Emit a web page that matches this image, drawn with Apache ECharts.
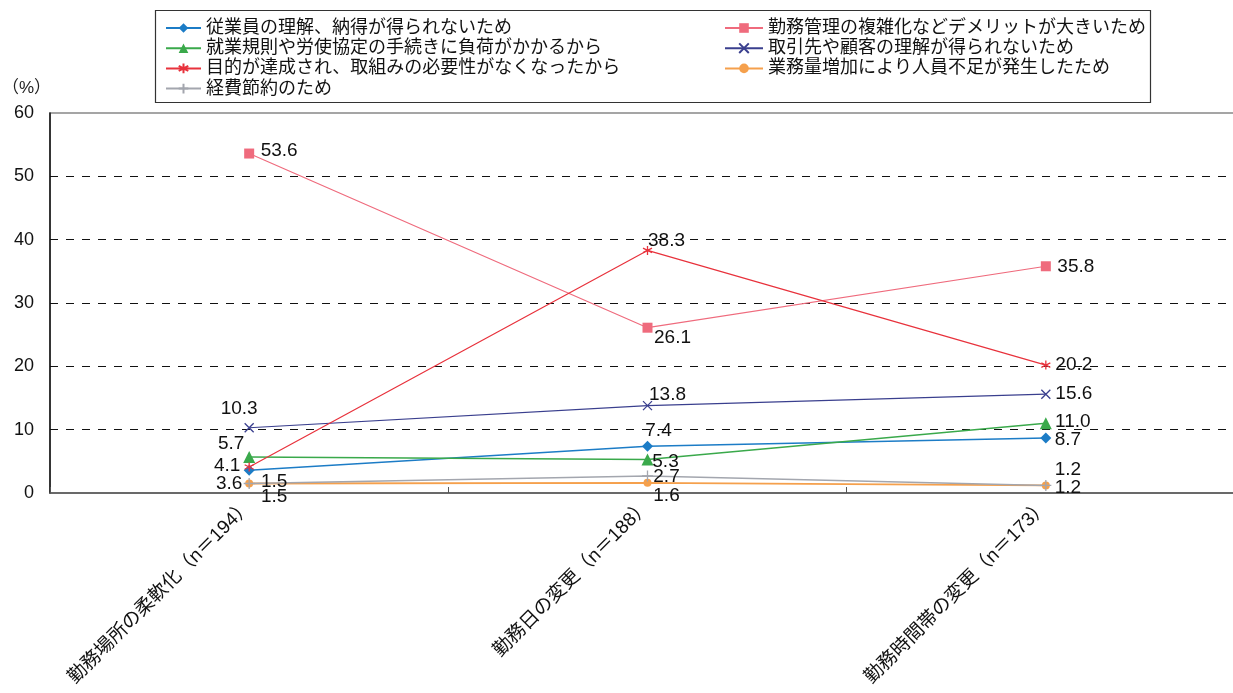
<!DOCTYPE html>
<html><head><meta charset="utf-8">
<script src="https://cdn.jsdelivr.net/npm/echarts@6/dist/echarts.min.js"></script>
<style>html,body{margin:0;padding:0;background:#fff}#c{width:1233px;height:693px}</style>
</head><body><div id="c"></div>
<script>
const categories = ['勤務場所の柔軟化（n＝194）', '勤務日の変更（n＝188）', '勤務時間帯の変更（n＝173）'];
const seriesNames = [
  '従業員の理解、納得が得られないため',
  '勤務管理の複雑化などデメリットが大きいため',
  '就業規則や労使協定の手続きに負荷がかかるから',
  '取引先や顧客の理解が得られないため',
  '目的が達成され、取組みの必要性がなくなったから',
  '業務量増加により人員不足が発生したため',
  '経費節約のため'
];
const understanding = [3.6, 7.4, 8.7];
const managementBurden = [53.6, 26.1, 35.8];
const procedures = [5.7, 5.3, 11.0];
const clients = [10.3, 13.8, 15.6];
const achieved = [4.1, 38.3, 20.2];
const staffShortage = [1.5, 1.6, 1.2];
const costSaving = [1.5, 2.7, 1.2];
const yTicks = [0, 10, 20, 30, 40, 50, 60];

const values = [understanding, managementBurden, procedures, clients, achieved, staffShortage, costSaving];
const colors = ['#1c7cc6', '#ef6b7d', '#3aa94b', '#3a3f8e', '#e8323c', '#f5a04c', '#a3a6ae'];
const lineWidths = [1.5, 1.2, 1.5, 1.2, 1.2, 1.8, 1.5];
const symbols = [
  'diamond', 'rect', 'triangle',
  'path://M0,0L10,10M10,0L0,10',
  'path://M5,0L5,10M0,2.5L10,7.5M0,7.5L10,2.5',
  'circle',
  'path://M5,0L5,10M0,5L10,5'
];
const symbolSizes = [11, 10, 12, 9, 9, 8, 11];
// label centre offsets relative to point centre
const labelOffsets = [
  [[-20, 14], [11, -15], [22, 2]],
  [[30, -3], [25, 10], [30, 0]],
  [[-18, -13], [18, 2], [27, -2]],
  [[-10, -19], [20, -11], [28, 0]],
  [[-22, -1], [19, -10], [28, 0]],
  [[25, 13], [19, 13], [22, 2]],
  [[25, -2], [19, 1], [22, -16]]
];

const chart = echarts.init(document.getElementById('c'));
const font = "'Liberation Sans', 'Noto Sans CJK JP', sans-serif";

const series = values.map((vals, si) => {
  const isPath = symbols[si].startsWith('path');
  return {
    name: seriesNames[si],
    type: 'line',
    symbol: symbols[si],
    symbolSize: symbolSizes[si],
    showAllSymbol: true,
    lineStyle: { color: colors[si], width: lineWidths[si] },
    itemStyle: isPath ? { color: colors[si], borderColor: colors[si], borderWidth: 1.3 } : { color: colors[si], borderWidth: 0 },
    emphasis: { disabled: true },
    data: vals.map((v, ci) => ({
      value: v,
      label: {
        show: true,
        position: 'inside',
        offset: labelOffsets[si][ci],
        formatter: v.toFixed(1),
        color: '#111',
        fontSize: 19,
        fontFamily: font
      }
    })),
    z: 3
  };
});

const legendText = { fontSize: 18, lineHeight: 18, color: '#111', fontFamily: font };

chart.setOption({
  animation: false,
  backgroundColor: '#fff',
  textStyle: { fontFamily: font },
  graphic: [
    { type: 'rect', shape: { x: 155.5, y: 10.5, width: 995, height: 92 }, style: { fill: 'none', stroke: '#333', lineWidth: 1.2 }, z: 10 },
    { type: 'text', left: 2, top: 80, style: { text: '（%）', fontSize: 17, fill: '#222', fontFamily: font } }
  ],
  legend: [
    {
      data: [seriesNames[0], seriesNames[2], seriesNames[4], seriesNames[6]],
      orient: 'vertical', left: 165, top: 19, padding: 0, itemGap: 2.2, itemWidth: 35, itemHeight: 12,
      textStyle: legendText, selectedMode: false
    },
    {
      data: [seriesNames[1], seriesNames[3], seriesNames[5]],
      orient: 'vertical', left: 724, top: 19, padding: 0, itemGap: 2.2, itemWidth: 38, itemHeight: 12,
      textStyle: legendText, selectedMode: false
    }
  ],
  grid: { left: 50, top: 113, width: 1195, height: 380, show: true, borderColor: '#888', borderWidth: 1.5, outerBoundsMode: 'none', containLabel: false },
  xAxis: {
    type: 'category',
    data: categories,
    boundaryGap: true,
    axisLine: { show: true, lineStyle: { color: '#555', width: 1.5 } },
    axisTick: { show: true, inside: true, length: 6, lineStyle: { color: '#555' } },
    axisLabel: { rotate: 45, fontSize: 19, color: '#111', margin: 10, fontFamily: font, interval: 0 }
  },
  yAxis: {
    type: 'value',
    min: 0, max: 60, interval: 10,
    axisLine: { show: true, lineStyle: { color: '#111', width: 1.5 } },
    axisTick: { show: false },
    axisLabel: { fontSize: 18, color: '#111', margin: 16, fontFamily: font },
    splitLine: { show: true, showMinLine: false, showMaxLine: false, lineStyle: { color: '#111', type: [8, 8], width: 1 } }
  },
  series: series
});
</script></body></html>
